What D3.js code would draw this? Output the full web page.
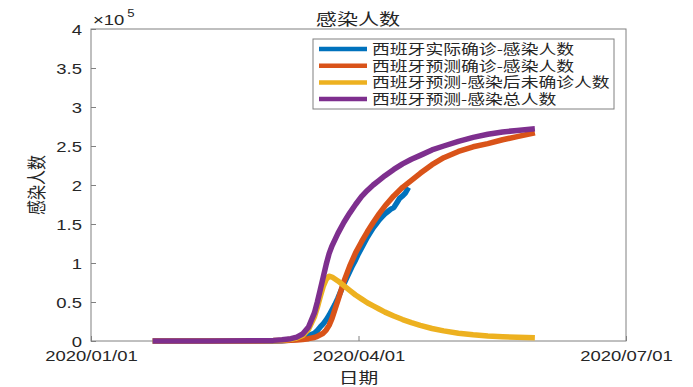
<!DOCTYPE html>
<html><head><meta charset="utf-8">
<script src="https://cdn.jsdelivr.net/npm/d3@7"></script>
<style>body{margin:0;background:#fff}</style>
</head><body>
<script>
// ---- data ----
const predDates = ["2020-01-22","2020-02-10","2020-02-25","2020-03-03","2020-03-06","2020-03-09","2020-03-11","2020-03-13","2020-03-15","2020-03-17","2020-03-18","2020-03-19","2020-03-20","2020-03-21","2020-03-22","2020-03-23","2020-03-25","2020-03-27","2020-03-29","2020-03-31","2020-04-02","2020-04-04","2020-04-06","2020-04-08","2020-04-10","2020-04-13","2020-04-16","2020-04-19","2020-04-22","2020-04-26","2020-04-30","2020-05-05","2020-05-10","2020-05-15","2020-05-20","2020-05-25","2020-05-31"];
const predConfirmed = [0,0,50,200,400,800,1200,2000,3000,4500,6000,8000,10000,14000,20000,29000,52000,76000,96000,113000,127000,140000,152000,163000,173000,186000,197000,206000,215000,226000,235000,243000,249000,253000,258000,262000,267000];
const predUnconfirmed = [0,100,250,600,1100,2200,3800,7000,15000,31000,43000,57000,70000,79000,83000,82000,77000,71000,65000,59000,54000,49000,45000,41000,37000,32000,27500,23500,20000,16000,13000,10000,8000,6500,5500,4800,4200];
const predTotal = [0,100,300,800,1500,3000,5000,9000,18000,36000,50000,66000,82000,98000,112000,122000,138000,152000,164000,175000,185000,193000,200000,206000,212000,220000,227000,233000,238000,245000,250000,256000,261000,265000,268000,270000,272000];
const actualDates = ["2020-01-22","2020-02-10","2020-02-25","2020-03-03","2020-03-06","2020-03-09","2020-03-11","2020-03-13","2020-03-15","2020-03-17","2020-03-18","2020-03-19","2020-03-20","2020-03-21","2020-03-22","2020-03-23","2020-03-24","2020-03-25","2020-03-26","2020-03-27","2020-03-28","2020-03-29","2020-03-30","2020-03-31","2020-04-01","2020-04-02","2020-04-03","2020-04-04","2020-04-05","2020-04-06","2020-04-07","2020-04-08","2020-04-09","2020-04-10","2020-04-11","2020-04-12","2020-04-13","2020-04-14","2020-04-15","2020-04-16","2020-04-17","2020-04-18"];
const actualConfirmed = [0,2,2,150,400,1200,2200,4200,7000,10000,13500,18000,22000,27000,33000,40000,47000,55000,64000,73000,81000,89000,97000,104000,112000,119000,126000,133000,139000,145000,150000,155000,159000,163000,166000,169000,171000,177000,183000,186000,190000,197000];
const seriesNames = ["西班牙实际确诊-感染人数","西班牙预测确诊-感染人数","西班牙预测-感染后未确诊人数","西班牙预测-感染总人数"];
const seriesColors = ["#0072BD","#D95319","#EDB120","#7E2F8E"];
const xTickLabels = ["2020/01/01","2020/04/01","2020/07/01"];
const yTicks = [0,50000,100000,150000,200000,250000,300000,350000,400000];
const titleText = "感染人数", xLabel = "日期", yLabel = "感染人数";

// ---- layout ----
const W = 693, H = 387, SX = 1.32;
const L = 91, R = 626, T = 29, B = 341;
const NUM = "'Liberation Sans', Arial, sans-serif";
const CJK = "'Noto Sans CJK SC', sans-serif";
const parse = d3.timeParse("%Y-%m-%d");
const fmtIn = d3.timeParse("%Y/%m/%d");

const svg = d3.select("body").append("svg").attr("width", W).attr("height", H);
const x = d3.scaleTime().domain([fmtIn(xTickLabels[0]), fmtIn(xTickLabels[2])]).range([L, R]);
const y = d3.scaleLinear().domain([0, 400000]).range([B, T]);

// box
svg.append("rect").attr("x", L).attr("y", T).attr("width", R - L).attr("height", B - T)
  .attr("fill", "none").attr("stroke", "#808080").attr("stroke-width", 1);

// axes
const xAxis = svg.append("g").attr("transform", `translate(0,${B})`)
  .call(d3.axisBottom(x).tickValues(xTickLabels.map(fmtIn)).tickSize(-5).tickFormat(d3.timeFormat("%Y/%m/%d")));
const yAxis = svg.append("g").attr("transform", `translate(${L},0)`)
  .call(d3.axisLeft(y).tickValues(yTicks).tickSize(-5).tickFormat(v => d3.format("~g")(v / 1e5)));
[xAxis, yAxis].forEach(g => {
  g.select(".domain").remove();
  g.selectAll(".tick line").attr("stroke", "#808080");
  g.selectAll("text").attr("fill", "#262626").attr("font-family", NUM).attr("font-size", 14);
});
xAxis.selectAll("text").attr("y", 10).attr("dy", "0.71em").attr("transform", `scale(${SX},1)`);
yAxis.selectAll("text").attr("x", -9 / SX).attr("dy", "0.36em").attr("transform", `scale(${SX},1)`);

// exponent
const ex = svg.append("g").attr("transform", `translate(93,25) scale(${SX},1)`);
ex.append("text").attr("font-family", NUM).attr("font-size", 14).attr("fill", "#262626")
  .text("×10");
ex.append("text").attr("x", 26).attr("y", -8).attr("font-family", NUM).attr("font-size", 10).attr("fill", "#262626").text("5");

// lines
const line = d3.line().x(d => x(d[0])).y(d => y(d[1]));
const mk = (dates, vals) => dates.map((d, i) => [parse(d), vals[i]]);
const series = [mk(actualDates, actualConfirmed), mk(predDates, predConfirmed), mk(predDates, predUnconfirmed), mk(predDates, predTotal)];
series.forEach((s, i) => {
  svg.append("path").datum(s).attr("d", line).attr("fill", "none")
    .attr("stroke", seriesColors[i]).attr("stroke-width", 5.5).attr("stroke-linejoin", "round");
});

// labels
svg.append("text").attr("transform", `translate(358,25) scale(${SX},1)`).attr("text-anchor", "middle")
  .attr("font-family", CJK).attr("font-size", 16).attr("fill", "#262626").text(titleText);
svg.append("text").attr("transform", `translate(358.5,383) scale(${SX},1)`).attr("text-anchor", "middle")
  .attr("font-family", CJK).attr("font-size", 15).attr("fill", "#262626").text(xLabel);
svg.append("text").attr("transform", `translate(37,185) scale(${SX},1) rotate(-90)`).attr("text-anchor", "middle")
  .attr("dy", "0.35em").attr("font-family", CJK).attr("font-size", 15).attr("fill", "#262626").text(yLabel);

// legend
const lg = svg.append("g");
lg.append("rect").attr("x", 313).attr("y", 39).attr("width", 301).attr("height", 70)
  .attr("fill", "#fff").attr("stroke", "#808080").attr("stroke-width", 1);
seriesNames.forEach((n, i) => {
  const yy = 49 + i * 16.7;
  lg.append("line").attr("x1", 319).attr("x2", 367).attr("y1", yy).attr("y2", yy)
    .attr("stroke", seriesColors[i]).attr("stroke-width", 4.5);
  lg.append("text").attr("transform", `translate(372,${yy}) scale(${SX},1)`).attr("dy", "0.36em")
    .attr("font-family", CJK).attr("font-size", 13.5).attr("fill", "#262626").text(n);
});
</script>
</body></html>
